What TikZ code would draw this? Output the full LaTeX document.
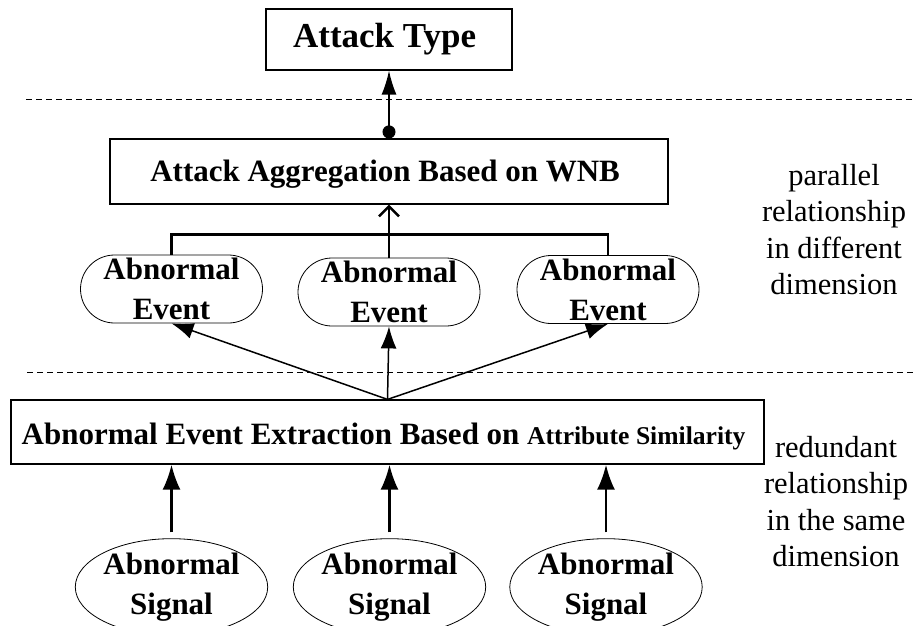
\documentclass[tikz,border=0pt]{standalone}
\usepackage{fontspec}
\setmainfont{Liberation Serif}
\usetikzlibrary{positioning, shapes.geometric, arrows.meta}

\begin{document}
\begin{tikzpicture}[x = 1pt, y = -1pt,
    every node/.style = { align = center, inner sep = 0pt, font = \bfseries\fontsize{31}{40}\selectfont },
    layerbox/.style = { draw, line width = 1.2pt },
    eventbox/.style = { draw, line width = 0.8pt, rounded corners = 34pt, minimum width = 182pt, minimum height = 68pt },
    signalbox/.style = { draw, ellipse, line width = 0.8pt, minimum width = 189pt, minimum height = 76pt },
    note/.style = { anchor = north, font = \fontsize{30.5}{36.5}\selectfont },
    sep/.style = { line width = 0.7pt, dash pattern = on 6pt off 4pt },
    fan/.style = { line width = 1.5pt, -{Latex[length = 22pt, width = 16pt]} },
    merge/.style = { line width = 2.5pt },
    lift/.style = { line width = 2.5pt, shorten <= 6pt, -{Latex[length = 25pt, width = 18pt]} }]

    \useasboundingbox (0, 0) rectangle (913, 625);

    \node [layerbox, minimum width = 246pt, minimum height = 61pt, font = \bfseries\fontsize{35}{40}\selectfont] (type) at (389, 39.5) { Attack Type };
    \node [layerbox, minimum width = 558pt, minimum height = 65pt, text height = 24pt, text depth = 4pt] (agg) at (389, 171.5) { Attack Aggregation Based on WNB };

    \node [eventbox] (ev1) at (171.5, 289) { Abnormal \\ Event };
    \node [eventbox] (ev2) at (389, 292) { Abnormal \\ Event };
    \node [eventbox] (ev3) at (608, 289.5) { Abnormal \\ Event };

    \node [layerbox, minimum width = 753pt, minimum height = 64pt, text height = 26pt, text depth = 2pt] (ext) at (387.5, 432)
      { Abnormal Event Extraction Based on {\fontsize{25.6}{30}\selectfont Attribute Similarity} };

    \node [signalbox] (sig1) at (171.5, 587) { Abnormal \\ Signal };
    \node [signalbox] (sig2) at (389.5, 587) { Abnormal \\ Signal };
    \node [signalbox] (sig3) at (606, 587) { Abnormal \\ Signal };

    \node [note] (par) at (834, 164) { parallel \\ relationship \\ in different \\ dimension };
    \node [note] (red) at (836, 436) { redundant \\ relationship \\ in the same \\ dimension };

    \draw [sep] (26, 99) -- (913, 99);
    \draw [sep] (27, 372) -- (913, 372);

    \draw [line width = 1.5pt, {Circle[length = 13pt]}-{Latex[length = 24pt, width = 15pt]}] (agg.north) -- (type.south);
    \draw [merge] (ev1.north) -- ++(0, -20) -| (ev3.north);
    \draw [merge, -{Straight Barb[length = 10pt, width = 20pt]}] (ev2.north) -- (agg.south);

    \draw [fan] (ext.north) -- (ev1.south);
    \draw [fan] (ext.north) -- (ev2.south);
    \draw [fan] (ext.north) -- (ev3.south);

    \draw [lift] (sig1.north) -- (sig1.north |- ext.south);
    \draw [lift] (sig2.north) -- (sig2.north |- ext.south);
    \draw [lift] (sig3.north) -- (sig3.north |- ext.south);
\end{tikzpicture}
\end{document}
